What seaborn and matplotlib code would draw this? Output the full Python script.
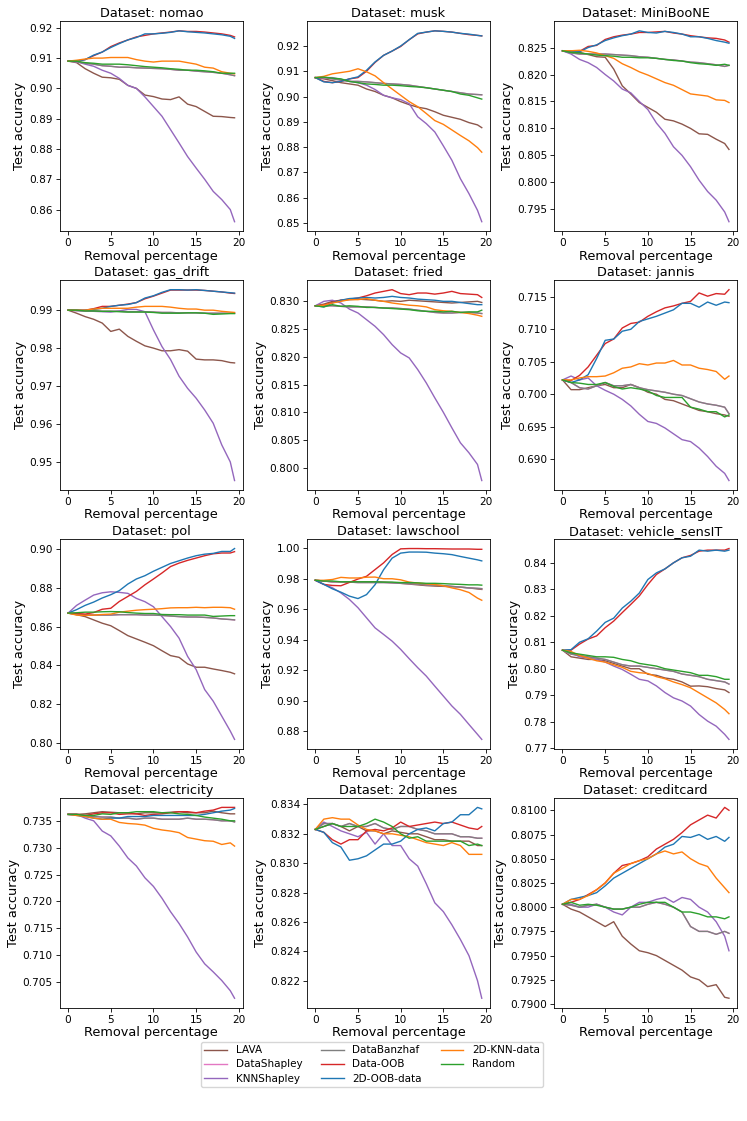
"""
Test accuracy after removing the highest-valued data points, one panel per dataset.
Saves the 4x3 grid of line plots to out.png.
"""
import matplotlib
matplotlib.use("Agg")
import matplotlib.pyplot as plt
from matplotlib.lines import Line2D
import pandas as pd
import seaborn as sns

# x axis shared by every panel (percentage of data removed)
removal_pct = [0, 1, 2, 3, 4, 5, 6, 7, 8, 9, 10, 11, 12, 13, 14, 15, 16, 17, 18, 19, 19.5]

methods = ["LAVA", "DataShapley", "KNNShapley", "DataBanzhaf",
           "Data-OOB", "2D-OOB-data", "2D-KNN-data", "Random"]
method_colors = {
    "LAVA": "tab:brown", "DataShapley": "tab:pink", "KNNShapley": "tab:purple",
    "DataBanzhaf": "tab:gray", "Data-OOB": "tab:red", "2D-OOB-data": "tab:blue",
    "2D-KNN-data": "tab:orange", "Random": "tab:green",
}

# values; DataShapley sits under DataBanzhaf everywhere
nomao = {
    "LAVA": [0.909, 0.9085, 0.9065, 0.905, 0.9037, 0.9035, 0.903, 0.901, 0.900, 0.8978, 0.8973, 0.8965, 0.8963, 0.8972, 0.8948, 0.894, 0.8924, 0.8908, 0.8907, 0.8904, 0.8903],
    "KNNShapley": [0.909, 0.9088, 0.908, 0.9073, 0.906, 0.905, 0.9033, 0.901, 0.900, 0.8972, 0.894, 0.8908, 0.8864, 0.882, 0.8775, 0.8737, 0.870, 0.866, 0.8633, 0.860, 0.856],
    "DataBanzhaf": [0.909, 0.9088, 0.9083, 0.908, 0.9075, 0.9073, 0.907, 0.907, 0.9068, 0.9067, 0.9066, 0.9065, 0.9063, 0.906, 0.906, 0.9057, 0.9055, 0.9053, 0.905, 0.9045, 0.9042],
    "Data-OOB": [0.909, 0.909, 0.9095, 0.9108, 0.912, 0.9138, 0.915, 0.916, 0.917, 0.9175, 0.918, 0.9183, 0.9186, 0.919, 0.9188, 0.9188, 0.9186, 0.9183, 0.918, 0.9175, 0.917],
    "2D-OOB-data": [0.909, 0.909, 0.9095, 0.911, 0.912, 0.9135, 0.9148, 0.916, 0.9168, 0.918, 0.918, 0.9182, 0.9185, 0.919, 0.9187, 0.9185, 0.9183, 0.918, 0.9177, 0.9172, 0.9165],
    "2D-KNN-data": [0.909, 0.9093, 0.9097, 0.910, 0.910, 0.9102, 0.9102, 0.9102, 0.9095, 0.909, 0.9087, 0.909, 0.909, 0.909, 0.9085, 0.908, 0.907, 0.9067, 0.9055, 0.905, 0.9048],
    "Random": [0.909, 0.909, 0.9085, 0.9083, 0.908, 0.908, 0.908, 0.9078, 0.9075, 0.9072, 0.907, 0.9068, 0.9065, 0.9063, 0.906, 0.906, 0.9058, 0.9055, 0.905, 0.905, 0.905],
}
musk = {
    "LAVA": [0.9075, 0.907, 0.9063, 0.9055, 0.905, 0.9045, 0.903, 0.902, 0.9005, 0.8995, 0.898, 0.8968, 0.8958, 0.8952, 0.894, 0.8926, 0.8918, 0.891, 0.8897, 0.8888, 0.8877],
    "KNNShapley": [0.9075, 0.9075, 0.9075, 0.9068, 0.906, 0.9055, 0.9045, 0.9028, 0.9005, 0.8995, 0.8988, 0.8972, 0.892, 0.8893, 0.886, 0.8805, 0.8748, 0.8675, 0.8616, 0.855, 0.8505],
    "DataBanzhaf": [0.9075, 0.9075, 0.907, 0.9065, 0.906, 0.906, 0.9058, 0.9055, 0.9052, 0.905, 0.9048, 0.9045, 0.904, 0.9035, 0.903, 0.9025, 0.902, 0.9015, 0.901, 0.9008, 0.9007],
    "Data-OOB": [0.9075, 0.906, 0.9055, 0.906, 0.907, 0.9075, 0.910, 0.9135, 0.9163, 0.918, 0.9198, 0.9225, 0.9248, 0.9255, 0.926, 0.9258, 0.9255, 0.925, 0.9245, 0.9242, 0.924],
    "2D-OOB-data": [0.9075, 0.9058, 0.9055, 0.906, 0.907, 0.9078, 0.9104, 0.9137, 0.9163, 0.918, 0.920, 0.9225, 0.925, 0.9255, 0.926, 0.9258, 0.9255, 0.925, 0.9247, 0.9242, 0.924],
    "2D-KNN-data": [0.9075, 0.908, 0.909, 0.9095, 0.910, 0.911, 0.9098, 0.9082, 0.9055, 0.903, 0.9005, 0.898, 0.896, 0.8933, 0.8905, 0.889, 0.8868, 0.8846, 0.8825, 0.8798, 0.878],
    "Random": [0.9075, 0.9077, 0.9073, 0.907, 0.906, 0.9055, 0.905, 0.9048, 0.9045, 0.9045, 0.9043, 0.904, 0.9038, 0.9035, 0.903, 0.9025, 0.902, 0.901, 0.9005, 0.8995, 0.899],
}
miniboone = {
    "LAVA": [0.8244, 0.8241, 0.8241, 0.8237, 0.8233, 0.8232, 0.821, 0.8179, 0.8164, 0.8148, 0.8139, 0.813, 0.8117, 0.8114, 0.8108, 0.810, 0.809, 0.8089, 0.808, 0.8072, 0.8061],
    "KNNShapley": [0.8244, 0.8238, 0.8228, 0.8222, 0.8213, 0.820, 0.8188, 0.8173, 0.8166, 0.815, 0.8135, 0.811, 0.8091, 0.8066, 0.805, 0.8029, 0.8004, 0.7983, 0.7967, 0.7945, 0.7927],
    "DataBanzhaf": [0.8244, 0.824, 0.8238, 0.8238, 0.8238, 0.8238, 0.8237, 0.8236, 0.8235, 0.8233, 0.8232, 0.823, 0.8228, 0.8227, 0.8225, 0.8223, 0.8222, 0.822, 0.8218, 0.8215, 0.8217],
    "Data-OOB": [0.8244, 0.8244, 0.8243, 0.8252, 0.8254, 0.8265, 0.827, 0.8273, 0.8275, 0.8278, 0.8278, 0.8279, 0.828, 0.8277, 0.8275, 0.8272, 0.827, 0.8268, 0.8267, 0.8264, 0.826],
    "2D-OOB-data": [0.8244, 0.8243, 0.8242, 0.825, 0.8255, 0.8263, 0.8268, 0.8272, 0.8275, 0.8281, 0.8278, 0.8277, 0.828, 0.8278, 0.8275, 0.827, 0.827, 0.8267, 0.8263, 0.826, 0.8258],
    "2D-KNN-data": [0.8244, 0.8244, 0.8245, 0.8243, 0.824, 0.8235, 0.823, 0.822, 0.8213, 0.8205, 0.8199, 0.8192, 0.8185, 0.818, 0.8172, 0.8164, 0.8162, 0.816, 0.8153, 0.8152, 0.8148],
    "Random": [0.8244, 0.8241, 0.824, 0.8238, 0.8236, 0.8235, 0.8234, 0.8232, 0.8232, 0.8231, 0.8231, 0.823, 0.8228, 0.8226, 0.8225, 0.8222, 0.822, 0.8219, 0.8217, 0.8219, 0.8217],
}
gas_drift = {
    "LAVA": [0.990, 0.9892, 0.9883, 0.9876, 0.9866, 0.9844, 0.985, 0.9831, 0.9818, 0.9806, 0.980, 0.9793, 0.9793, 0.9796, 0.9792, 0.9771, 0.9769, 0.9769, 0.9767, 0.9762, 0.9761],
    "KNNShapley": [0.990, 0.9899, 0.9898, 0.9897, 0.9896, 0.9895, 0.9898, 0.9902, 0.9902, 0.9896, 0.9848, 0.9804, 0.977, 0.9726, 0.9694, 0.9668, 0.9637, 0.9602, 0.9545, 0.950, 0.9451],
    "DataBanzhaf": [0.990, 0.9899, 0.9898, 0.9898, 0.9897, 0.9897, 0.9897, 0.9896, 0.9896, 0.9896, 0.9895, 0.9894, 0.9894, 0.9893, 0.9893, 0.9893, 0.9892, 0.9892, 0.9892, 0.9892, 0.9892],
    "Data-OOB": [0.990, 0.990, 0.990, 0.9904, 0.991, 0.991, 0.9913, 0.9916, 0.992, 0.993, 0.9937, 0.9945, 0.9953, 0.9953, 0.9953, 0.9953, 0.9952, 0.995, 0.9948, 0.9945, 0.9944],
    "2D-OOB-data": [0.990, 0.990, 0.990, 0.9902, 0.9905, 0.991, 0.9913, 0.9915, 0.992, 0.9932, 0.9938, 0.9947, 0.9954, 0.9954, 0.9953, 0.9954, 0.9952, 0.995, 0.9948, 0.9946, 0.9945],
    "2D-KNN-data": [0.990, 0.990, 0.990, 0.9903, 0.9905, 0.9905, 0.9905, 0.9905, 0.9908, 0.991, 0.991, 0.991, 0.9908, 0.9905, 0.9903, 0.9903, 0.990, 0.990, 0.9897, 0.9895, 0.9894],
    "Random": [0.990, 0.990, 0.9898, 0.9898, 0.9897, 0.9897, 0.9896, 0.9895, 0.9895, 0.9895, 0.9894, 0.9892, 0.9892, 0.9892, 0.9893, 0.9893, 0.9892, 0.9889, 0.989, 0.9891, 0.9891],
}
fried = {
    "LAVA": [0.8292, 0.8295, 0.830, 0.8302, 0.8303, 0.8304, 0.8303, 0.8302, 0.830, 0.8301, 0.830, 0.8302, 0.8301, 0.830, 0.8299, 0.8298, 0.8297, 0.8298, 0.8299, 0.830, 0.8298],
    "KNNShapley": [0.8292, 0.830, 0.8302, 0.8297, 0.8286, 0.8279, 0.8267, 0.8255, 0.824, 0.8222, 0.8207, 0.8198, 0.8177, 0.8153, 0.8126, 0.810, 0.8072, 0.8045, 0.8027, 0.8006, 0.7977],
    "DataBanzhaf": [0.8292, 0.8292, 0.8292, 0.8291, 0.829, 0.829, 0.829, 0.8289, 0.8288, 0.8288, 0.8287, 0.8286, 0.8284, 0.8282, 0.828, 0.8279, 0.8279, 0.828, 0.828, 0.8279, 0.8278],
    "Data-OOB": [0.8292, 0.8293, 0.8298, 0.8302, 0.8304, 0.8306, 0.831, 0.8315, 0.8318, 0.8321, 0.8314, 0.8312, 0.8315, 0.8315, 0.8313, 0.8315, 0.8318, 0.8314, 0.8313, 0.8312, 0.8307],
    "2D-OOB-data": [0.8292, 0.829, 0.8297, 0.8302, 0.8305, 0.8306, 0.8307, 0.8306, 0.8307, 0.8309, 0.8307, 0.8306, 0.8304, 0.8303, 0.8302, 0.830, 0.830, 0.8298, 0.8296, 0.8294, 0.8294],
    "2D-KNN-data": [0.8292, 0.8293, 0.8297, 0.830, 0.8303, 0.8303, 0.8305, 0.8302, 0.830, 0.8297, 0.8295, 0.8293, 0.8292, 0.829, 0.8285, 0.8283, 0.8282, 0.828, 0.8278, 0.8275, 0.8273],
    "Random": [0.8292, 0.829, 0.8294, 0.8291, 0.8292, 0.8291, 0.8289, 0.8289, 0.8288, 0.8287, 0.8286, 0.8285, 0.8283, 0.8282, 0.8282, 0.8281, 0.8282, 0.828, 0.8281, 0.8281, 0.8284],
}
jannis = {
    "LAVA": [0.7022, 0.7007, 0.7007, 0.701, 0.7013, 0.7015, 0.701, 0.701, 0.7015, 0.701, 0.7003, 0.700, 0.6992, 0.699, 0.6985, 0.698, 0.6975, 0.6973, 0.697, 0.6968, 0.6966],
    "KNNShapley": [0.7022, 0.7028, 0.7022, 0.7025, 0.7013, 0.7006, 0.700, 0.6992, 0.6982, 0.6969, 0.6958, 0.6955, 0.6948, 0.6939, 0.693, 0.6927, 0.6917, 0.6904, 0.6889, 0.6878, 0.6867],
    "DataBanzhaf": [0.7022, 0.7018, 0.701, 0.7008, 0.7013, 0.7018, 0.7013, 0.7013, 0.7015, 0.701, 0.7007, 0.7005, 0.7003, 0.700, 0.6998, 0.6993, 0.6988, 0.6985, 0.6983, 0.698, 0.697],
    "Data-OOB": [0.7022, 0.7021, 0.7029, 0.7042, 0.706, 0.7078, 0.7085, 0.7102, 0.7109, 0.7111, 0.712, 0.7127, 0.7133, 0.7136, 0.714, 0.7143, 0.7156, 0.7151, 0.7155, 0.7154, 0.7161],
    "2D-OOB-data": [0.7022, 0.7018, 0.7022, 0.703, 0.7055, 0.7083, 0.7085, 0.7097, 0.710, 0.7112, 0.7116, 0.712, 0.7125, 0.713, 0.714, 0.714, 0.7134, 0.7142, 0.7137, 0.7142, 0.7141],
    "2D-KNN-data": [0.7022, 0.7022, 0.7025, 0.7027, 0.7027, 0.7028, 0.7033, 0.704, 0.7042, 0.7047, 0.7045, 0.7048, 0.7048, 0.7052, 0.7045, 0.7045, 0.704, 0.7038, 0.7035, 0.7023, 0.7028],
    "Random": [0.7022, 0.7018, 0.7017, 0.7015, 0.7015, 0.7018, 0.7012, 0.7008, 0.701, 0.7008, 0.7005, 0.6998, 0.6995, 0.6995, 0.6995, 0.698, 0.6977, 0.6973, 0.6973, 0.6965, 0.6968],
}
pol = {
    "LAVA": [0.867, 0.8662, 0.8652, 0.8635, 0.8618, 0.8605, 0.858, 0.8554, 0.8537, 0.852, 0.8502, 0.8476, 0.8451, 0.8442, 0.8408, 0.8391, 0.8391, 0.8382, 0.8374, 0.8365, 0.8357],
    "KNNShapley": [0.867, 0.871, 0.8737, 0.8763, 0.8775, 0.878, 0.8777, 0.8772, 0.8746, 0.8729, 0.8703, 0.8652, 0.8601, 0.8541, 0.8447, 0.8379, 0.8276, 0.8216, 0.8139, 0.8062, 0.8019],
    "DataBanzhaf": [0.867, 0.8665, 0.8662, 0.866, 0.866, 0.866, 0.8662, 0.8662, 0.8662, 0.866, 0.866, 0.8658, 0.8655, 0.8652, 0.865, 0.865, 0.8648, 0.8645, 0.864, 0.8637, 0.8635],
    "Data-OOB": [0.867, 0.8668, 0.8665, 0.8673, 0.869, 0.8695, 0.873, 0.8756, 0.8782, 0.8816, 0.8846, 0.8877, 0.891, 0.8928, 0.8942, 0.8954, 0.8966, 0.8976, 0.898, 0.898, 0.8987],
    "2D-OOB-data": [0.867, 0.8688, 0.871, 0.8727, 0.8748, 0.8765, 0.8786, 0.882, 0.8846, 0.8863, 0.8886, 0.8906, 0.8926, 0.894, 0.8954, 0.8966, 0.8974, 0.8978, 0.8988, 0.8988, 0.9003],
    "2D-KNN-data": [0.867, 0.866, 0.8658, 0.866, 0.8663, 0.8665, 0.8675, 0.868, 0.8685, 0.8688, 0.869, 0.8693, 0.8697, 0.8698, 0.8698, 0.870, 0.8698, 0.870, 0.870, 0.8698, 0.869],
    "Random": [0.867, 0.8672, 0.8675, 0.8675, 0.8677, 0.8678, 0.8677, 0.8673, 0.867, 0.8668, 0.8668, 0.8663, 0.8662, 0.8662, 0.866, 0.866, 0.866, 0.8653, 0.8655, 0.8657, 0.8657],
}
lawschool = {
    "LAVA": [0.979, 0.9785, 0.978, 0.978, 0.978, 0.978, 0.978, 0.978, 0.9778, 0.9775, 0.977, 0.9765, 0.976, 0.9755, 0.9752, 0.975, 0.9748, 0.9745, 0.974, 0.9733, 0.973],
    "KNNShapley": [0.979, 0.9763, 0.9741, 0.9707, 0.9664, 0.961, 0.9544, 0.9478, 0.9435, 0.9391, 0.9337, 0.9276, 0.9217, 0.9162, 0.9096, 0.9031, 0.8966, 0.8911, 0.8845, 0.878, 0.8747],
    "DataBanzhaf": [0.979, 0.9785, 0.978, 0.978, 0.9778, 0.9775, 0.9775, 0.9775, 0.9775, 0.9773, 0.977, 0.9768, 0.9765, 0.976, 0.9758, 0.9755, 0.975, 0.9745, 0.974, 0.9737, 0.9735],
    "Data-OOB": [0.979, 0.9763, 0.9756, 0.9754, 0.9776, 0.9798, 0.9816, 0.986, 0.9904, 0.9959, 0.9996, 0.9998, 0.9998, 0.9997, 0.9997, 0.9996, 0.9995, 0.9995, 0.9995, 0.9993, 0.9993],
    "2D-OOB-data": [0.979, 0.9763, 0.9734, 0.9712, 0.9686, 0.967, 0.9696, 0.9761, 0.9859, 0.9935, 0.9968, 0.9975, 0.9975, 0.9974, 0.9968, 0.9964, 0.9958, 0.9946, 0.9935, 0.9924, 0.9917],
    "2D-KNN-data": [0.979, 0.979, 0.9795, 0.9809, 0.9805, 0.9805, 0.981, 0.9811, 0.980, 0.980, 0.9793, 0.9778, 0.9772, 0.9767, 0.9762, 0.9754, 0.974, 0.9728, 0.971, 0.9673, 0.9659],
    "Random": [0.979, 0.9785, 0.9785, 0.978, 0.978, 0.978, 0.978, 0.978, 0.9778, 0.9778, 0.9775, 0.9775, 0.9773, 0.977, 0.977, 0.9768, 0.9765, 0.9763, 0.976, 0.976, 0.9758],
}
vehicle_sensit = {
    "LAVA": [0.807, 0.8045, 0.804, 0.8035, 0.8035, 0.803, 0.802, 0.801, 0.800, 0.800, 0.7979, 0.7975, 0.7965, 0.796, 0.795, 0.7934, 0.7935, 0.7932, 0.7925, 0.792, 0.791],
    "KNNShapley": [0.807, 0.806, 0.8045, 0.804, 0.8035, 0.8025, 0.801, 0.7997, 0.7979, 0.796, 0.7954, 0.7935, 0.791, 0.789, 0.7878, 0.7859, 0.7827, 0.7802, 0.7783, 0.7752, 0.7733],
    "DataBanzhaf": [0.807, 0.8055, 0.805, 0.8045, 0.804, 0.8035, 0.8025, 0.8015, 0.801, 0.801, 0.8005, 0.800, 0.7995, 0.799, 0.798, 0.7975, 0.797, 0.796, 0.7955, 0.795, 0.7942],
    "Data-OOB": [0.807, 0.807, 0.8093, 0.8112, 0.8124, 0.8155, 0.818, 0.8212, 0.8243, 0.8275, 0.8318, 0.8356, 0.8377, 0.840, 0.8419, 0.8428, 0.8444, 0.8448, 0.8448, 0.8448, 0.8454],
    "2D-OOB-data": [0.807, 0.8072, 0.810, 0.8113, 0.8142, 0.8175, 0.8191, 0.8229, 0.8255, 0.8286, 0.8337, 0.8362, 0.8377, 0.840, 0.8419, 0.8425, 0.8448, 0.8444, 0.8448, 0.8444, 0.8448],
    "2D-KNN-data": [0.807, 0.8065, 0.805, 0.804, 0.803, 0.8025, 0.8015, 0.8005, 0.799, 0.7985, 0.7982, 0.797, 0.7962, 0.795, 0.794, 0.7928, 0.7909, 0.789, 0.7871, 0.7846, 0.783],
    "Random": [0.807, 0.806, 0.8055, 0.805, 0.8045, 0.8045, 0.8043, 0.8035, 0.803, 0.802, 0.8015, 0.801, 0.800, 0.7995, 0.799, 0.7985, 0.7975, 0.7975, 0.797, 0.796, 0.796],
}
electricity = {
    "LAVA": [0.7362, 0.7362, 0.7363, 0.7365, 0.7367, 0.7366, 0.7365, 0.7365, 0.7363, 0.7365, 0.7365, 0.7365, 0.7366, 0.7367, 0.7365, 0.7365, 0.7365, 0.7368, 0.7365, 0.7363, 0.7363],
    "KNNShapley": [0.7362, 0.7362, 0.7355, 0.735, 0.7331, 0.7322, 0.7303, 0.7281, 0.7266, 0.7244, 0.7228, 0.7206, 0.7181, 0.7159, 0.7134, 0.7106, 0.7084, 0.7069, 0.7053, 0.7034, 0.702],
    "DataBanzhaf": [0.7362, 0.7362, 0.736, 0.7358, 0.7357, 0.7357, 0.7355, 0.7355, 0.7353, 0.7355, 0.7355, 0.7353, 0.7353, 0.7353, 0.7355, 0.7353, 0.7353, 0.7352, 0.735, 0.735, 0.7348],
    "Data-OOB": [0.7362, 0.7362, 0.736, 0.7363, 0.7365, 0.7365, 0.7362, 0.7363, 0.7363, 0.736, 0.7362, 0.7363, 0.7365, 0.7367, 0.7367, 0.7365, 0.7368, 0.737, 0.7375, 0.7375, 0.7375],
    "2D-OOB-data": [0.7362, 0.736, 0.7358, 0.7355, 0.7353, 0.7355, 0.7355, 0.7358, 0.7358, 0.7358, 0.736, 0.736, 0.736, 0.736, 0.736, 0.736, 0.7362, 0.7365, 0.7368, 0.737, 0.7373],
    "2D-KNN-data": [0.7362, 0.736, 0.7358, 0.7355, 0.7353, 0.7353, 0.7347, 0.7345, 0.7344, 0.7342, 0.7336, 0.7333, 0.7331, 0.7328, 0.7319, 0.7316, 0.7313, 0.7312, 0.7306, 0.7309, 0.7303],
    "Random": [0.7362, 0.7362, 0.736, 0.736, 0.7363, 0.7362, 0.7365, 0.7365, 0.7367, 0.7367, 0.7367, 0.7365, 0.7365, 0.7363, 0.7362, 0.736, 0.7357, 0.7355, 0.7353, 0.735, 0.735],
}
planes2d = {
    "LAVA": [0.8323, 0.8325, 0.8327, 0.8325, 0.8322, 0.8325, 0.8322, 0.8322, 0.832, 0.8322, 0.8321, 0.832, 0.832, 0.8318, 0.8316, 0.8316, 0.8315, 0.8315, 0.8315, 0.8312, 0.8312],
    "KNNShapley": [0.8323, 0.8328, 0.8325, 0.8322, 0.832, 0.8318, 0.8321, 0.8313, 0.832, 0.8312, 0.8312, 0.8303, 0.8298, 0.8286, 0.8273, 0.8267, 0.8258, 0.8248, 0.8237, 0.822, 0.8208],
    "DataBanzhaf": [0.8323, 0.8327, 0.8327, 0.8325, 0.8327, 0.8325, 0.8325, 0.8327, 0.8324, 0.8323, 0.8325, 0.8325, 0.8323, 0.8322, 0.832, 0.832, 0.832, 0.8318, 0.8318, 0.8317, 0.8317],
    "Data-OOB": [0.8323, 0.8321, 0.8316, 0.8313, 0.8316, 0.8316, 0.8322, 0.8323, 0.8322, 0.8324, 0.8328, 0.8325, 0.8326, 0.8327, 0.8328, 0.8327, 0.8328, 0.8326, 0.8324, 0.8323, 0.8325],
    "2D-OOB-data": [0.8323, 0.8321, 0.8314, 0.8311, 0.8302, 0.8303, 0.8305, 0.8309, 0.8313, 0.8313, 0.8315, 0.832, 0.8323, 0.8324, 0.8322, 0.8327, 0.8328, 0.8333, 0.8333, 0.8338, 0.8337],
    "2D-KNN-data": [0.8323, 0.833, 0.8331, 0.833, 0.833, 0.8326, 0.8323, 0.8322, 0.832, 0.832, 0.8319, 0.8318, 0.8316, 0.8314, 0.8313, 0.8312, 0.8314, 0.8312, 0.8306, 0.8306, 0.8306],
    "Random": [0.8323, 0.8325, 0.8327, 0.8325, 0.8325, 0.8325, 0.8327, 0.833, 0.8328, 0.8325, 0.832, 0.8317, 0.8318, 0.8315, 0.8315, 0.8315, 0.8315, 0.8315, 0.8312, 0.8313, 0.8312],
}
creditcard = {
    "LAVA": [0.8003, 0.7998, 0.7995, 0.799, 0.7985, 0.798, 0.7985, 0.797, 0.7962, 0.7955, 0.7953, 0.795, 0.7945, 0.794, 0.7935, 0.7928, 0.7925, 0.7918, 0.792, 0.7907, 0.7906],
    "KNNShapley": [0.8003, 0.8003, 0.800, 0.800, 0.8003, 0.800, 0.7995, 0.7992, 0.800, 0.8005, 0.8005, 0.8008, 0.801, 0.8005, 0.801, 0.8008, 0.800, 0.7995, 0.7985, 0.797, 0.7955],
    "DataBanzhaf": [0.8003, 0.8002, 0.800, 0.8002, 0.8003, 0.800, 0.7998, 0.7998, 0.800, 0.800, 0.8003, 0.8005, 0.8003, 0.800, 0.7995, 0.798, 0.7975, 0.7975, 0.7972, 0.7975, 0.7973],
    "Data-OOB": [0.8003, 0.8005, 0.8008, 0.8013, 0.8018, 0.8025, 0.8035, 0.8043, 0.8045, 0.8048, 0.8052, 0.806, 0.8065, 0.807, 0.8077, 0.8085, 0.809, 0.8095, 0.8092, 0.8103, 0.810],
    "2D-OOB-data": [0.8003, 0.8008, 0.801, 0.8012, 0.8015, 0.8022, 0.803, 0.8035, 0.804, 0.8045, 0.805, 0.8055, 0.8062, 0.8065, 0.8073, 0.8072, 0.8075, 0.807, 0.8073, 0.8068, 0.8072],
    "2D-KNN-data": [0.8003, 0.8008, 0.8008, 0.8012, 0.8018, 0.8025, 0.8035, 0.804, 0.8045, 0.8048, 0.805, 0.8055, 0.8058, 0.8055, 0.8057, 0.805, 0.8045, 0.8042, 0.803, 0.802, 0.8015],
    "Random": [0.8003, 0.8005, 0.8002, 0.8003, 0.8002, 0.800, 0.7998, 0.7998, 0.800, 0.8003, 0.8005, 0.8005, 0.8005, 0.800, 0.7995, 0.7995, 0.7993, 0.799, 0.799, 0.7988, 0.799],
}

panels = [
    ("nomao", nomao), ("musk", musk), ("MiniBooNE", miniboone),
    ("gas_drift", gas_drift), ("fried", fried), ("jannis", jannis),
    ("pol", pol), ("lawschool", lawschool), ("vehicle_sensIT", vehicle_sensit),
    ("electricity", electricity), ("2dplanes", planes2d), ("creditcard", creditcard),
]

fig, axes = plt.subplots(4, 3, figsize=(7.47, 11.21), dpi=100)
fig.subplots_adjust(left=0.080, right=0.987, top=0.981, bottom=0.101,
                    wspace=0.35, hspace=0.233)

for ax, (name, curves) in zip(axes.flat, panels):
    rows = []
    for method in methods:
        values = curves["DataBanzhaf"] if method == "DataShapley" else curves[method]
        for x, y in zip(removal_pct, values):
            rows.append({"removal": x, "accuracy": y, "method": method})
    df = pd.DataFrame(rows)

    sns.lineplot(data=df, x="removal", y="accuracy", hue="method",
                 hue_order=methods, palette=method_colors, linewidth=1.0,
                 legend=False, ax=ax)

    ax.set_title(f"Dataset: {name}", fontsize=9.3, pad=3)
    ax.set_xlabel("Removal percentage", fontsize=9.3, labelpad=1)
    ax.set_ylabel("Test accuracy", fontsize=9.3, labelpad=2)
    ax.set_xticks([0, 5, 10, 15, 20])
    ax.tick_params(labelsize=7.6, width=0.6, length=3, pad=2)
    for spine in ax.spines.values():
        spine.set_linewidth(0.6)

handles = [Line2D([0], [0], color=method_colors[m], lw=1.0) for m in methods]
fig.legend(handles, methods, loc="center", bbox_to_anchor=(0.498, 0.0505),
           ncol=3, fontsize=7.5, frameon=True, handlelength=2.2,
           columnspacing=1.8, borderpad=0.35, labelspacing=0.4)

plt.savefig("out.png", dpi=100)
